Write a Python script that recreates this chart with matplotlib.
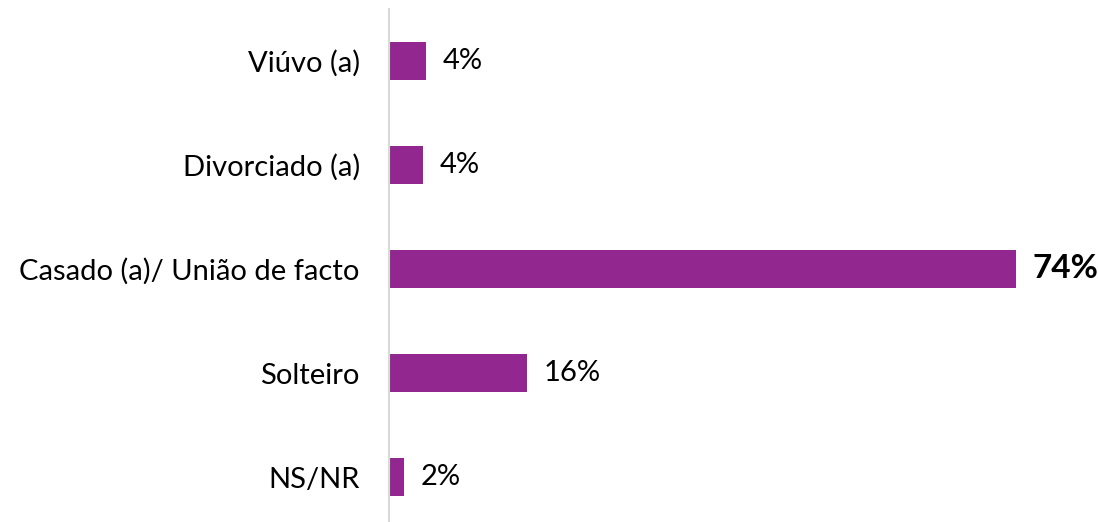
import matplotlib.pyplot as plt

plt.rcParams['font.family'] = ['Lato', 'DejaVu Sans']

categories = ['NS/NR', 'Solteiro', 'Casado (a)/ União de facto', 'Divorciado (a)', 'Viúvo (a)']
values = [1.8, 16.3, 74, 4, 4.4]
labels = ['2%', '16%', '74%', '4%', '4%']
bold = [False, False, True, False, False]

fig = plt.figure(figsize=(10.99, 5.22), dpi=100)
ax = fig.add_axes([389 / 1099, -7 / 522, 1 - 389 / 1099, 520 / 522])

bars = ax.barh(range(len(categories)), values, height=0.36, color='#92278F')
ax.set_xlim(0, 83.8)
ax.set_ylim(-0.5, 4.5)

for bar, lab, b in zip(bars, labels, bold):
    ax.annotate(lab, (bar.get_width(), bar.get_y() + bar.get_height() / 2),
                xytext=(12, 0), textcoords='offset points', va='center', ha='left',
                fontsize=24 if b else 21, fontweight='bold' if b else 'normal',
                color='black')

ax.set_yticks(range(len(categories)))
ax.set_yticklabels(categories, fontsize=21)
ax.tick_params(axis='y', length=0, pad=21)
ax.set_xticks([])
for s in ['top', 'right', 'bottom']:
    ax.spines[s].set_visible(False)
ax.spines['left'].set_color('#D9D9D9')
ax.spines['left'].set_linewidth(1.5)

fig.savefig('out.png', dpi=100)
